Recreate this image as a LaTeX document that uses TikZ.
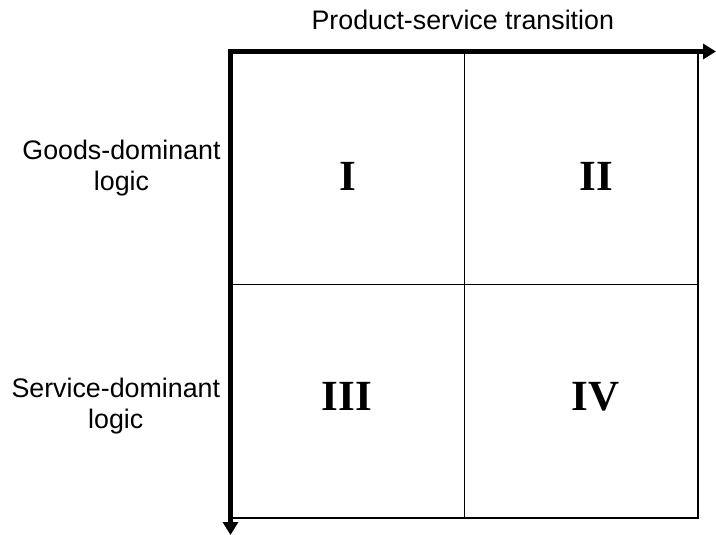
\documentclass[tikz,border=0pt]{standalone}
\usepackage{fontspec}
\setmainfont{Liberation Sans}
\newfontfamily\numfont{Liberation Serif}
\usetikzlibrary{arrows.meta}

\begin{document}
\begin{tikzpicture}[x=1pt,y=-1pt,
    axis/.style={line width=4.5pt,line join=miter,
      {Triangle[length=13pt,width=15pt]}-{Triangle[length=13pt,width=15pt]}},
    grid/.style={line width=1.5pt},
    axislabel/.style={anchor=base,align=center,inner sep=0pt,
      font=\fontsize{26.8}{31}\selectfont},
    quadrant/.style={anchor=base,inner sep=0pt,
      font=\numfont\bfseries\fontsize{43}{43}\selectfont}]
  \useasboundingbox (0,0) rectangle (716,535);
  \coordinate(O)at(230.5,51.5);
  \coordinate(B)at(698,51.5);
  \coordinate(C)at(698,518);
  \coordinate(D)at(230.5,518);
  \coordinate(M)at(464.5,51.5);
  \coordinate(N)at(464.5,518);
  \coordinate(P)at(230.5,284.5);
  \coordinate(Q)at(698,284.5);
  \coordinate(X)at(716,51.5);
  \coordinate(Y)at(230.5,535);
  % grid of the four quadrants
  \draw[grid](O)--(B)--(C)--(D)--cycle (M)--(N) (P)--(Q);
  % axes
  \draw[axis](X)--(O)--(Y);
  % labels (base = last line)
  \node[axislabel] (top) at (462.8,30) {Product-service transition};
  \node[axislabel] (gdl) at (121.5,190.5) {Goods-dominant\\logic};
  \node[axislabel] (sdl) at (115.8,428) {Service-dominant\\logic};
  \node[quadrant] (q1) at (348,190) {I};
  \node[quadrant] (q2) at (596.7,190) {II};
  \node[quadrant] (q3) at (346.7,410) {III};
  \node[quadrant] (q4) at (595.8,410) {IV};
\end{tikzpicture}
\end{document}
